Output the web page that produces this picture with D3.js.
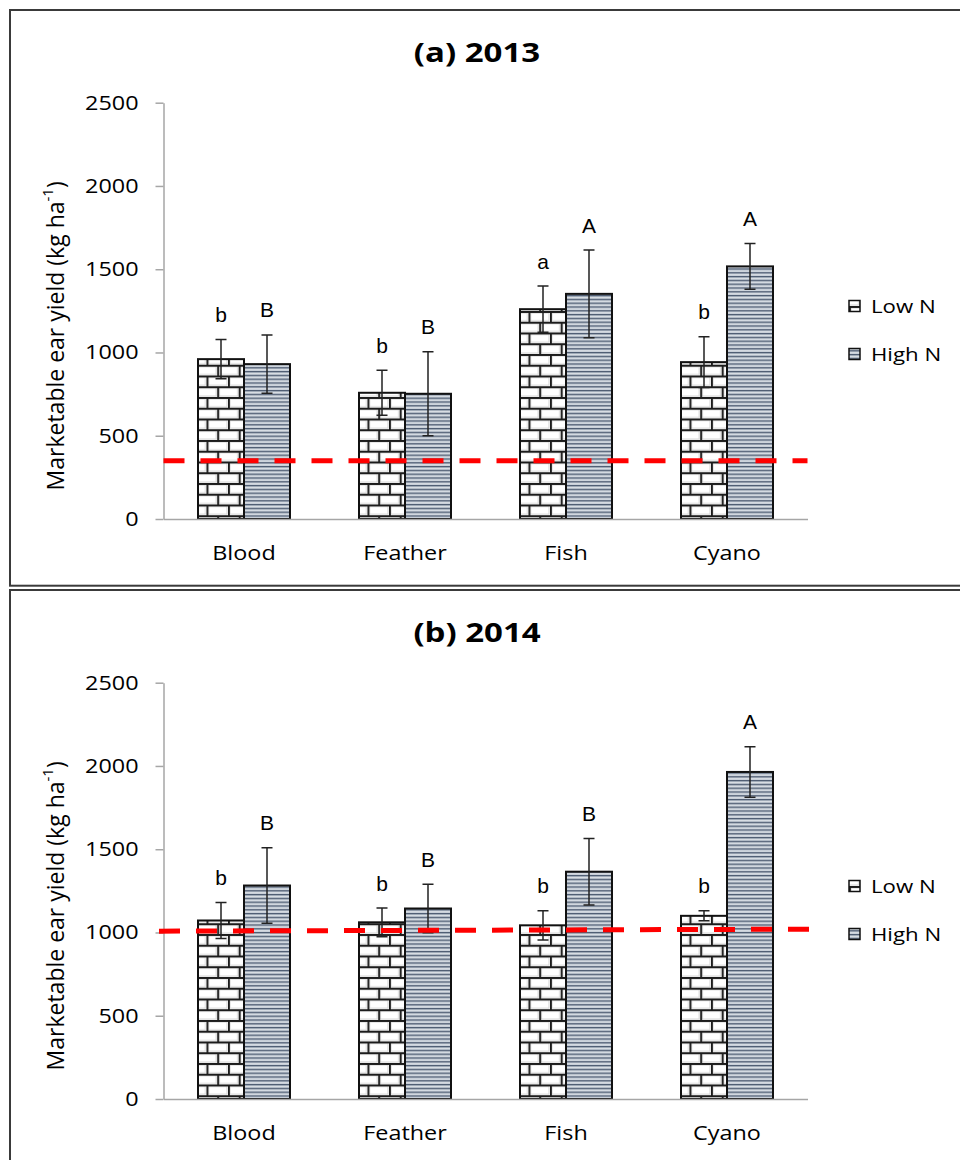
<!DOCTYPE html>
<html>
<head>
<meta charset="utf-8">
<script src="https://cdn.jsdelivr.net/npm/d3@7"></script>
<style>
  html, body { margin: 0; padding: 0; background: #ffffff; }
  svg { display: block; }
</style>
</head>
<body>
<script>
// ---- Data -------------------------------------------------------------
const categories = ["Blood", "Feather", "Fish", "Cyano"];
const seriesNames = ["Low N", "High N"];
const yTicks = [0, 500, 1000, 1500, 2000, 2500];

// Marketable ear yield, 2013 (kg/ha)
const low2013 = [960, 758, 1260, 942];
const high2013 = [930, 752, 1352, 1517];
const lowErr2013 = [118, 135, 139, 153];
const highErr2013 = [175, 252, 263, 138];
const lowLetters2013 = ["b", "b", "a", "b"];
const highLetters2013 = ["B", "B", "A", "A"];
const control2013 = [350, 350];   // reference yield line, start / end

// Marketable ear yield, 2014 (kg/ha)
const low2014 = [1072, 1061, 1043, 1100];
const high2014 = [1282, 1144, 1365, 1964];
const lowErr2014 = [108, 86, 88, 30];
const highErr2014 = [227, 145, 200, 152];
const lowLetters2014 = ["b", "b", "b", "b"];
const highLetters2014 = ["B", "B", "B", "A"];
const control2014 = [1008, 1020];

// ---- Layout -----------------------------------------------------------
const W = 960, H = 1160;
const svg = d3.select("body").append("svg").attr("width", W).attr("height", H);

const uiFont = "'Open Sans', 'Noto Sans', sans-serif";
const letterFont = "'Liberation Sans', Arial, sans-serif";
const sx = 1.17;   // horizontal widening of the UI lettering

// Fill patterns: brick for Low N, horizontal stripes for High N
const defs = svg.append("defs");
const brick = defs.append("pattern")
  .attr("id", "brick").attr("patternUnits", "userSpaceOnUse")
  .attr("width", 21.5).attr("height", 21.5);
brick.append("rect").attr("width", 21.5).attr("height", 21.5).attr("fill", "#ffffff");
brick.append("rect").attr("x", 2).attr("y", 2).attr("width", 18.5).attr("height", 7.8)
  .attr("fill", "none").attr("stroke", "#d4d4d4").attr("stroke-width", 1);
brick.append("rect").attr("x", 12.75).attr("y", 12.75).attr("width", 18.5).attr("height", 7.8)
  .attr("fill", "none").attr("stroke", "#d4d4d4").attr("stroke-width", 1);
brick.append("rect").attr("x", -8.75).attr("y", 12.75).attr("width", 18.5).attr("height", 7.8)
  .attr("fill", "none").attr("stroke", "#d4d4d4").attr("stroke-width", 1);
brick.append("path")
  .attr("d", "M0,0.9H21.5 M0,11.65H21.5 M0.9,0V10.75 M11.65,10.75V21.5")
  .attr("stroke", "#1c1c1c").attr("stroke-width", 1.9).attr("fill", "none");

const stripe = defs.append("pattern")
  .attr("id", "stripe").attr("patternUnits", "userSpaceOnUse")
  .attr("width", 8).attr("height", 3.8);
stripe.append("rect").attr("width", 8).attr("height", 3.8).attr("fill", "#eef1f4");
stripe.append("rect").attr("y", 0).attr("width", 8).attr("height", 1.4).attr("fill", "#4e5c72");
stripe.append("rect").attr("y", 1.4).attr("width", 8).attr("height", 0.7).attr("fill", "#93a0b1");
stripe.append("rect").attr("y", 3.1).attr("width", 8).attr("height", 0.7).attr("fill", "#bcc5d0");

const fills = { "Low N": "url(#brick)", "High N": "url(#stripe)" };

const panels = [
  { title: "(a) 2013", top: 10, low: low2013, high: high2013, lowErr: lowErr2013, highErr: highErr2013,
    lowLetters: lowLetters2013, highLetters: highLetters2013, control: control2013, lineExtend: 0 },
  { title: "(b) 2014", top: 590, low: low2014, high: high2014, lowErr: lowErr2014, highErr: highErr2014,
    lowLetters: lowLetters2014, highLetters: highLetters2014, control: control2014, lineExtend: 4.5 }
];

const plotLeft = 163.5, plotRight = 807.5;

panels.forEach(p => {
  const g = svg.append("g").attr("transform", `translate(0,${p.top})`);

  // panel frame (runs off the right edge)
  g.append("rect")
    .attr("x", 10).attr("y", 0).attr("width", 970).attr("height", 575.7)
    .attr("fill", "#ffffff").attr("stroke", "#3a3a3a").attr("stroke-width", 2);

  const y = d3.scaleLinear().domain([0, 2500]).range([509, 92.7]);
  const x = d3.scaleBand().domain(categories).range([plotLeft, plotRight]).paddingInner(0).paddingOuter(0);
  const xs = d3.scaleBand().domain(seriesNames).range([0, x.bandwidth()]).paddingInner(0).paddingOuter(0.75);

  // title
  g.append("text")
    .attr("transform", `translate(477,42) scale(1.2,1)`)
    .attr("text-anchor", "middle").attr("dominant-baseline", "central")
    .attr("font-family", uiFont).attr("font-weight", "bold").attr("font-size", 27.5)
    .attr("fill", "#000").text(p.title);

  // y axis
  const yAxis = g.append("g").attr("transform", `translate(${plotLeft},0)`)
    .call(d3.axisLeft(y).tickValues(yTicks).tickFormat(d3.format("d"))
      .tickSize(8).tickSizeOuter(0).tickPadding(17));
  yAxis.select(".domain").attr("stroke", "#a6a6a6").attr("stroke-width", 1.5);
  yAxis.selectAll(".tick line").attr("stroke", "#a6a6a6").attr("stroke-width", 1.5);
  yAxis.selectAll(".tick text")
    .attr("x", -25 / sx).attr("transform", `scale(${sx},1)`)
    .attr("font-family", uiFont).attr("font-size", 20).attr("fill", "#000");

  // y axis title
  const yl = g.append("text")
    .attr("transform", `translate(55,${(y(0) + y(2500)) / 2 + 25}) rotate(-90)`)
    .attr("text-anchor", "middle").attr("dominant-baseline", "central")
    .attr("font-family", uiFont).attr("font-size", 23).attr("fill", "#000");
  yl.append("tspan").text("Marketable ear yield (kg ha");
  yl.append("tspan").attr("dy", -8).attr("font-size", 15).text("-1");
  yl.append("tspan").attr("dy", 8).text(")");

  // bars
  const rows = categories.map((c, i) => ({
    cat: c,
    vals: [
      { s: "Low N", v: p.low[i], e: p.lowErr[i], l: p.lowLetters[i] },
      { s: "High N", v: p.high[i], e: p.highErr[i], l: p.highLetters[i] }
    ]
  }));

  const grp = g.selectAll(".grp").data(rows).join("g")
    .attr("transform", d => `translate(${x(d.cat)},0)`);

  grp.selectAll("rect").data(d => d.vals).join("rect")
    .attr("x", d => xs(d.s)).attr("width", xs.bandwidth())
    .attr("y", d => y(d.v)).attr("height", d => y(0) - y(d.v))
    .attr("fill", d => fills[d.s])
    .attr("stroke", "#111").attr("stroke-width", 2);

  // x axis
  const xAxis = g.append("g").attr("transform", `translate(0,${y(0)})`)
    .call(d3.axisBottom(x).tickSize(0).tickSizeOuter(0).tickPadding(27));
  xAxis.select(".domain").attr("stroke", "#a6a6a6").attr("stroke-width", 1.5);
  xAxis.selectAll(".tick text")
    .attr("transform", `scale(${sx},1)`)
    .attr("font-family", uiFont).attr("font-size", 20).attr("fill", "#000");

  // error bars
  const eb = grp.selectAll(".eb").data(d => d.vals).join("g").attr("class", "eb");
  const cx = d => xs(d.s) + xs.bandwidth() / 2;
  const cap = 5.5;
  eb.append("path")
    .attr("d", d => `M${cx(d)},${y(d.v + d.e)}V${y(d.v - d.e)}` +
                    `M${cx(d) - cap},${y(d.v + d.e)}H${cx(d) + cap}` +
                    `M${cx(d) - cap},${y(d.v - d.e)}H${cx(d) + cap}`)
    .attr("stroke", "#222").attr("stroke-width", 1.5).attr("fill", "none");

  // reference yield line
  const line = d3.line().x(d => d[0]).y(d => y(d[1]));
  g.append("path")
    .attr("d", line([[plotLeft - p.lineExtend, p.control[0]], [plotRight + p.lineExtend, p.control[1]]]))
    .attr("stroke", "#ff0000").attr("stroke-width", 5).attr("stroke-dasharray", "21,16")
    .attr("fill", "none");

  // significance letters
  grp.selectAll(".letter").data(d => d.vals).join("text")
    .attr("class", "letter")
    .attr("x", cx).attr("y", d => y(d.v + d.e) - 25)
    .attr("text-anchor", "middle").attr("dominant-baseline", "central")
    .attr("font-family", letterFont).attr("font-size", 21).attr("fill", "#000")
    .text(d => d.l);

  // legend
  const leg = g.selectAll(".leg").data(seriesNames).join("g")
    .attr("transform", (d, i) => `translate(849,${296 + i * 48})`);
  leg.append("rect").attr("x", 0).attr("y", -5.5).attr("width", 11).attr("height", 11)
    .attr("fill", d => fills[d]).attr("stroke", "#111").attr("stroke-width", 1.5);
  leg.append("text").attr("transform", `translate(22,0) scale(${sx},1)`)
    .attr("dominant-baseline", "central")
    .attr("font-family", uiFont).attr("font-size", 19).attr("fill", "#000")
    .text(d => d);
});
</script>
</body>
</html>
